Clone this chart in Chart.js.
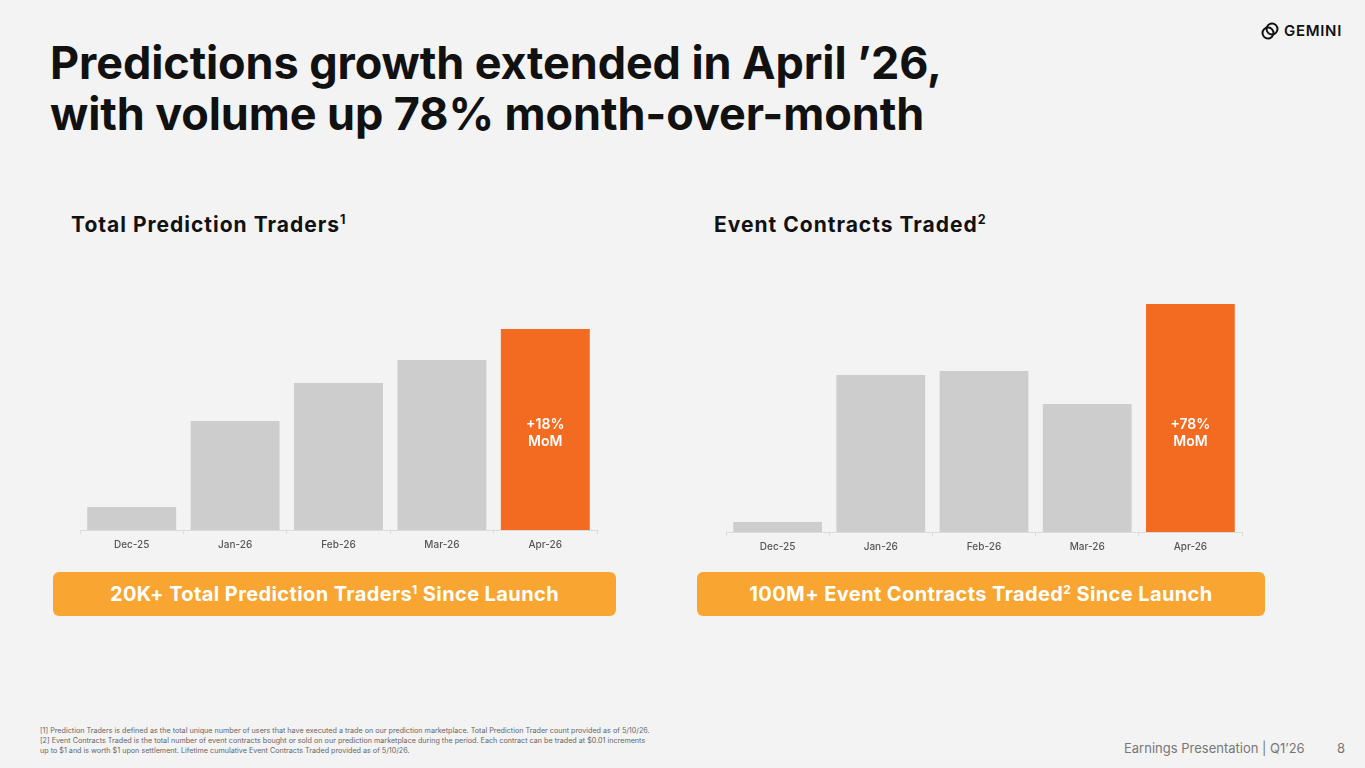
<!DOCTYPE html>
<html>
<head>
<meta charset="utf-8">
<script src="https://cdn.jsdelivr.net/npm/chart.js@4.4.1/dist/chart.umd.min.js"></script>
<style>
  html, body { margin: 0; padding: 0; }
  body { width: 1365px; height: 768px; background: #f3f3f3; position: relative; overflow: hidden; font-family: Inter, "Noto Sans", sans-serif; color: #111; }
  .abs { position: absolute; }
  h1 { position: absolute; left: 50px; top: 37px; margin: 0; font-size: 45px; line-height: 51px; font-weight: 700; letter-spacing: -0.1px; white-space: nowrap; }
  .sub { font-size: 21px; font-weight: 700; letter-spacing: 1px; white-space: nowrap; }
  sup { font-size: 0.6em; vertical-align: 0.6em; line-height: 0; }
  .banner { background: #f8a532; color: #fff; border-radius: 6px; font-size: 20px; font-weight: 700; text-align: center; line-height: 44px; height: 44px; letter-spacing: 0.4px; white-space: nowrap; }
  .foot { left: 40px; top: 726px; font-size: 7.2px; line-height: 9.8px; color: #666; white-space: nowrap; }
  .page { top: 740px; font-size: 13px; color: #777; }
  canvas { position: absolute; }
</style>
</head>
<body>
<h1>Predictions growth extended in April ’26,<br>with volume up 78% month-over-month</h1>

<div class="abs" style="left:1261px; top:21px; display:flex; align-items:center;">
  <svg width="18" height="18" viewBox="0 0 18 18" style="margin-right:5px">
    <circle cx="11" cy="7" r="5.5" fill="none" stroke="#111" stroke-width="2"/>
    <circle cx="7" cy="11" r="5.5" fill="none" stroke="#111" stroke-width="2"/>
  </svg>
  <span style="font-size:15px; font-weight:600; letter-spacing:0.7px;">GEMINI</span>
</div>

<div class="abs sub" style="left:71px; top:212px;">Total Prediction Traders<sup>1</sup></div>
<div class="abs sub" style="left:714px; top:212px;">Event Contracts Traded<sup>2</sup></div>

<canvas id="chartTraders" style="left:70px; top:250px; width:540px; height:320px;"></canvas>
<canvas id="chartContracts" style="left:716px; top:252px; width:540px; height:320px;"></canvas>

<div class="abs banner" style="left:53px; top:572px; width:563px;">20K+ Total Prediction Traders<sup>1</sup> Since Launch</div>
<div class="abs banner" style="left:697px; top:572px; width:568px;">100M+ Event Contracts Traded<sup>2</sup> Since Launch</div>

<div class="abs foot">[1] Prediction Traders is defined as the total unique number of users that have executed a trade on our prediction marketplace. Total Prediction Trader count provided as of 5/10/26.<br>[2] Event Contracts Traded is the total number of event contracts bought or sold on our prediction marketplace during the period. Each contract can be traded at $0.01 increments<br>up to $1 and is worth $1 upon settlement. Lifetime cumulative Event Contracts Traded provided as of 5/10/26.</div>
<div class="abs page" style="left:1124px;">Earnings Presentation | Q1’26</div>
<div class="abs page" style="left:1337px;">8</div>

<script>
// data (relative heights)
var months = ["Dec-25", "Jan-26", "Feb-26", "Mar-26", "Apr-26"];
var traders = [23, 109, 147, 170, 201];
var contracts = [10, 157, 161, 128, 228];
var tradersNote = ["+18%", "MoM"];
var contractsNote = ["+78%", "MoM"];

var abu = '#cccdcc';
var oren = '#f26b21';

// white label inside the last bar
var momLabel = {
  id: 'momLabel',
  afterDatasetsDraw: function (chart, args, opts) {
    var meta = chart.getDatasetMeta(0);
    var bar = meta.data[meta.data.length - 1];
    var ctx = chart.ctx;
    ctx.save();
    ctx.fillStyle = '#fff';
    ctx.font = '600 14px Inter';
    ctx.textAlign = 'center';
    ctx.textBaseline = 'middle';
    ctx.fillText(opts.lines[0], bar.x, chart.chartArea.top + opts.y);
    ctx.fillText(opts.lines[1], bar.x, chart.chartArea.top + opts.y + 17);
    ctx.restore();
  }
};

function bikinChart(id, values, note, padRight, labelY) {
  var colors = values.map(function (v, i) { return i == values.length - 1 ? oren : abu; });
  return new Chart(document.getElementById(id), {
    type: 'bar',
    data: {
      labels: months,
      datasets: [{
        data: values,
        backgroundColor: colors,
        borderWidth: 0,
        barPercentage: 0.86,
        categoryPercentage: 1
      }]
    },
    options: {
      responsive: false,
      animation: false,
      layout: { padding: { top: 10, left: 10, right: padRight, bottom: 0 } },
      plugins: {
        legend: { display: false },
        tooltip: { enabled: false },
        momLabel: { lines: note, y: labelY }
      },
      scales: {
        y: { display: false, min: 0, max: 270 },
        x: {
          afterFit: function (scale) { scale.height = 40; },
          border: { display: true, color: '#dcdcdc', width: 1 },
          grid: { display: true, drawOnChartArea: false, drawTicks: true, tickLength: 4, color: '#dcdcdc', offset: true },
          ticks: { color: '#555', padding: 5, font: { family: 'Inter', size: 10, weight: 500 } }
        }
      }
    },
    plugins: [momLabel]
  });
}

// canvas size in pixels
['chartTraders', 'chartContracts'].forEach(function (id) {
  var c = document.getElementById(id);
  c.width = 540; c.height = 320;
});

bikinChart('chartTraders', traders, tradersNote, 13, 165);
bikinChart('chartContracts', contracts, contractsNote, 14, 163);
</script>
</body>
</html>
